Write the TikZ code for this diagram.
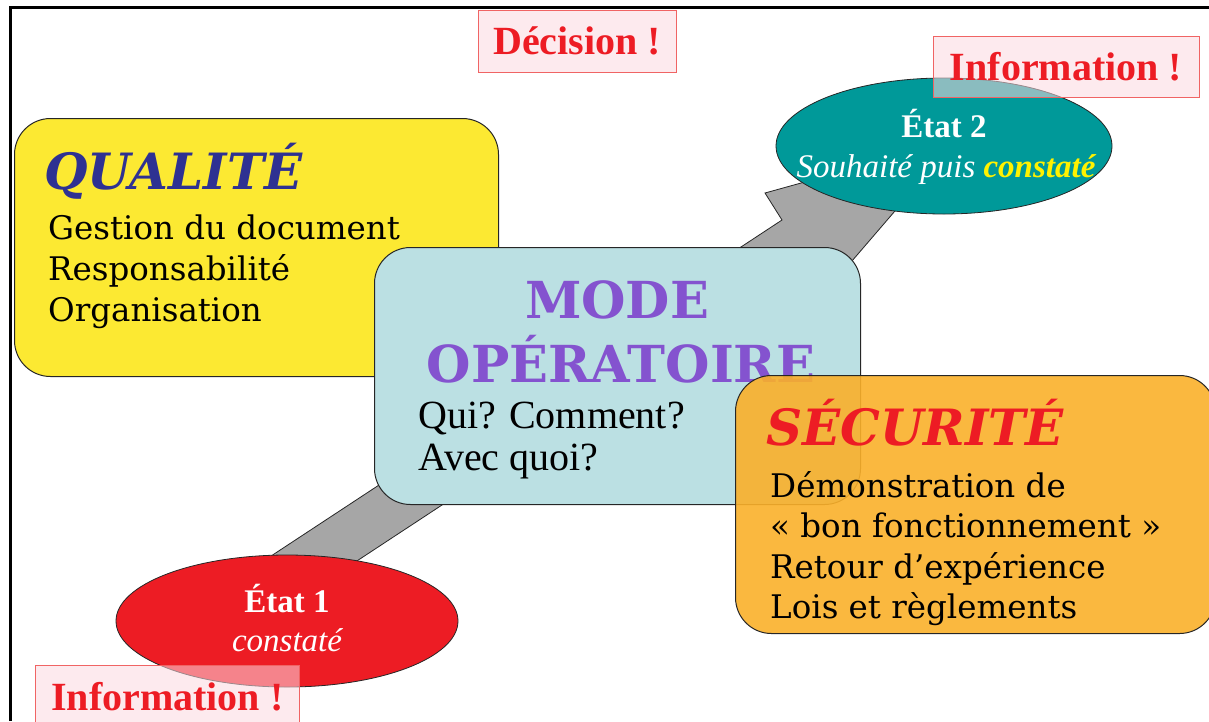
\documentclass[tikz,border=0pt]{standalone}
\usepackage{fontspec}
\setmainfont{DejaVu Serif}
\newfontfamily\timesfont{Liberation Serif}
\usetikzlibrary{shapes.geometric}

\definecolor{qualyellow}{HTML}{FCE932}
\definecolor{modeblue}{HTML}{BBE0E3}
\definecolor{secorange}{HTML}{FAB02A}
\definecolor{etatteal}{HTML}{009999}
\definecolor{etatred}{HTML}{ED1C24}
\definecolor{modepurple}{HTML}{8453CF}
\definecolor{qualblue}{HTML}{2E3192}
\definecolor{flagpink}{HTML}{FCD9E0}
\definecolor{flagline}{HTML}{F06464}
\definecolor{bandgray}{HTML}{A6A6A6}
\definecolor{constyellow}{HTML}{FFF200}

\begin{document}
\begin{tikzpicture}[x=1pt, y=-1pt,
    panel/.style={draw=black!85, line width=1pt, rounded corners=36pt,
                  anchor=north west, inner sep=0pt},
    etat/.style={ellipse, draw=black!85, line width=0.8pt, inner sep=0pt,
                 text=white},
    flag/.style={draw=flagline, line width=0.8pt, fill=flagpink,
                 fill opacity=0.55, text opacity=1, text=etatred, inner sep=0pt,
                 font=\timesfont\bfseries\fontsize{40}{40}\selectfont},
    bodytext/.style={anchor=base west, inner sep=0pt,
                     font=\fontsize{32.5}{32.5}\selectfont},
    heading/.style={anchor=base west, inner sep=0pt,
                    font=\bfseries\itshape\fontsize{50}{50}\selectfont}]
	\useasboundingbox (0,0) rectangle (1209,721);

	% frame
	\draw[line width=3pt] (10,721) -- (10,7) -- (1209,7);

	% grey block arrow
	\draw[fill=bandgray, draw=black!85, line width=0.8pt]
		(230,583) -- (782,220) -- (765,193) -- (956,140)
		-- (827,290) -- (810,263) -- (258,626) -- cycle;

	% states
	\node[etat, fill=etatteal, minimum width=336pt, minimum height=136pt] (e2) at (944,146) {};
	\node[etat, fill=etatred, minimum width=342pt, minimum height=132pt] (e1) at (287,621) {};
	\node[anchor=base, text=white, font=\timesfont\bfseries\fontsize{33}{33}\selectfont] (e2t) at (944,137) {État 2};
	\node[anchor=base, text=white, font=\timesfont\itshape\fontsize{33}{33}\selectfont] (e2s) at (946,177)
		{Souhaité puis \textcolor{constyellow}{\bfseries constaté}};
	\node[anchor=base, text=white, font=\timesfont\bfseries\fontsize{33}{33}\selectfont] (e1t) at (287,612) {État 1};
	\node[anchor=base, text=white, font=\timesfont\itshape\fontsize{33}{33}\selectfont] (e1s) at (287,651) {constaté};

	% panels
	\node[panel, fill=qualyellow, minimum width=484pt, minimum height=258pt] (qual) at (14,118) {};
	\node[heading, text=qualblue] (qualt) at (44,189) {QUALITÉ};
	\node[bodytext] (q1) at (48,239) {Gestion du document};
	\node[bodytext] (q2) at (48,280) {Responsabilité};
	\node[bodytext] (q3) at (48,321) {Organisation};

	\node[panel, fill=modeblue, minimum width=486pt, minimum height=257pt] (mode) at (374,247) {};
	\node[anchor=base, inner sep=0pt, text=modepurple, font=\bfseries\fontsize{51}{51}\selectfont] (modet1) at (617,318) {MODE};
	\node[anchor=base, inner sep=0pt, text=modepurple, font=\bfseries\fontsize{51}{51}\selectfont] (modet2) at (621,382) {OPÉRATOIRE};
	\node[bodytext, font=\timesfont\fontsize{40}{40}\selectfont] (m1) at (418,428) {Qui? Comment?};
	\node[bodytext, font=\timesfont\fontsize{40}{40}\selectfont] (m2) at (418,470) {Avec quoi?};

	\node[panel, fill=secorange, fill opacity=0.9, minimum width=480pt, minimum height=258pt] (secu) at (735,375) {};
	\node[heading, text=etatred] (secut) at (766,445) {SÉCURITÉ};
	\node[bodytext] (s1) at (770,497) {Démonstration de};
	\node[bodytext] (s2) at (770,537) {« bon fonctionnement »};
	\node[bodytext] (s3) at (770,578) {Retour d’expérience};
	\node[bodytext] (s4) at (770,618) {Lois et règlements};

	% flags
	\node[flag, minimum width=198pt, minimum height=62pt] (decision) at (577,41) {Décision !};
	\node[flag, minimum width=266pt, minimum height=61pt] (info2) at (1066,67) {Information !};
	\node[flag, anchor=north west, minimum width=264pt, minimum height=62pt] (info1) at (35,665) {Information !};
\end{tikzpicture}
\end{document}
